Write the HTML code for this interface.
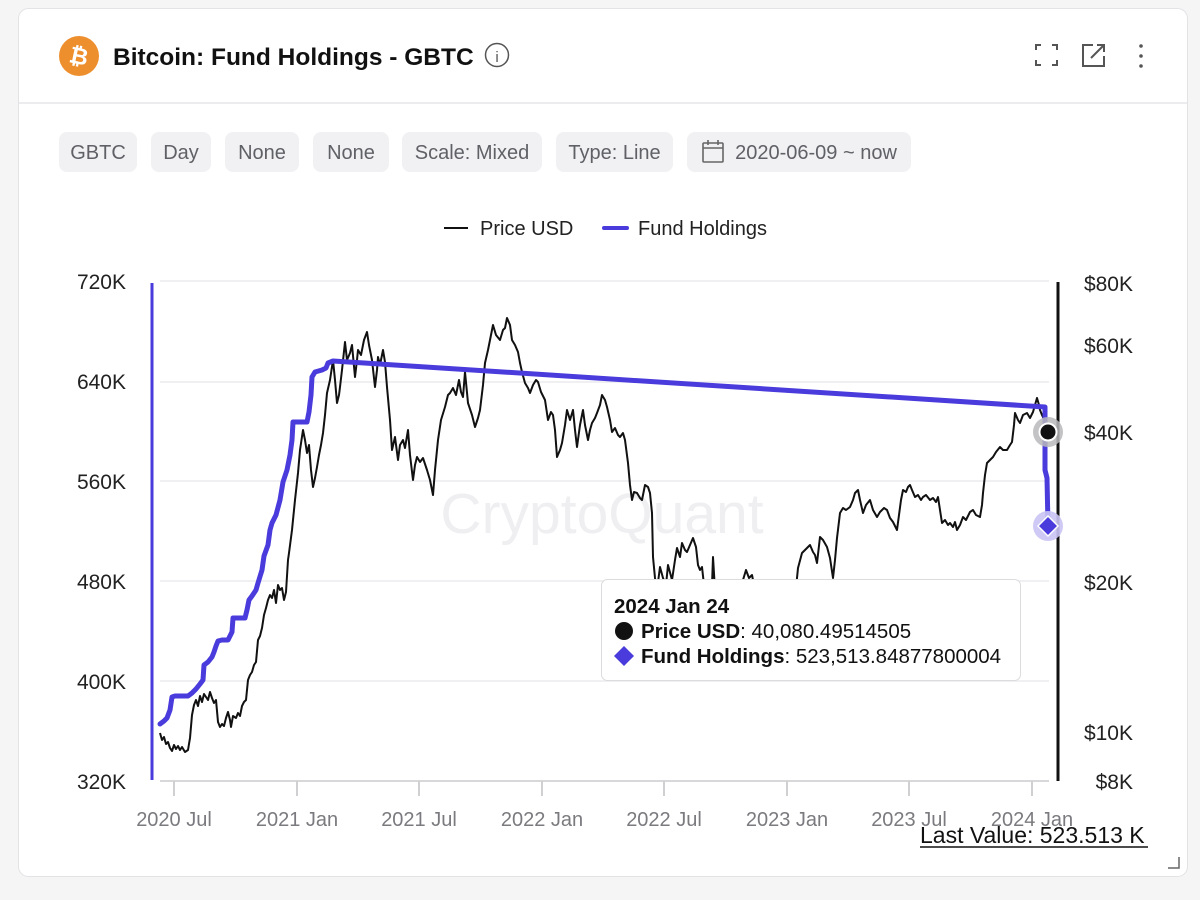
<!DOCTYPE html>
<html><head><meta charset="utf-8"><style>
html,body{margin:0;padding:0;background:#f5f5f6;}
svg{display:block;font-family:"Liberation Sans",Arial,sans-serif;}
</style></head><body>
<svg width="1200" height="900" viewBox="0 0 1200 900" xmlns="http://www.w3.org/2000/svg">
<rect x="0" y="0" width="1200" height="900" fill="#f5f5f6"/>
<rect x="18.5" y="8.5" width="1169" height="868" rx="10" fill="#fff" stroke="#e3e3e6"/>
<line x1="19" y1="103" x2="1187" y2="103" stroke="#e6e6e9" stroke-width="1.5"/>
<!-- header -->
<circle cx="79" cy="56" r="20" fill="#ee8f2e"/>
<text x="79" y="64" text-anchor="middle" font-size="23" font-weight="bold" fill="#fff" transform="rotate(12 79 56)">₿</text>
<text x="113" y="65" font-size="24.5" font-weight="bold" fill="#111">Bitcoin: Fund Holdings - GBTC</text>
<circle cx="497" cy="55" r="11.5" fill="none" stroke="#555" stroke-width="1.5"/>
<text x="497" y="62" text-anchor="middle" font-size="15" fill="#555">i</text>
<g stroke="#555" stroke-width="2" fill="none">
<path d="M1036 50 V45 H1041 M1052 45 H1057 V50 M1057 60 V65 H1052 M1041 65 H1036 V60"/>
<path d="M1093 45 H1083 V66 H1104 V56 M1091 58 L1104 45 M1097 45 H1104 V52"/>
</g>
<circle cx="1141" cy="46" r="1.8" fill="#555"/><circle cx="1141" cy="56" r="1.8" fill="#555"/><circle cx="1141" cy="66" r="1.8" fill="#555"/>
<!-- buttons -->
<g fill="#f1f1f3">
<rect x="59" y="132" width="78" height="40" rx="8"/>
<rect x="151" y="132" width="60" height="40" rx="8"/>
<rect x="225" y="132" width="74" height="40" rx="8"/>
<rect x="313" y="132" width="76" height="40" rx="8"/>
<rect x="402" y="132" width="140" height="40" rx="8"/>
<rect x="556" y="132" width="117" height="40" rx="8"/>
<rect x="687" y="132" width="224" height="40" rx="8"/>
</g>
<g font-size="20" fill="#5f6166" text-anchor="middle">
<text x="98" y="159">GBTC</text>
<text x="181" y="159">Day</text>
<text x="262" y="159">None</text>
<text x="351" y="159">None</text>
<text x="472" y="159">Scale: Mixed</text>
<text x="614.5" y="159">Type: Line</text>
<text x="816" y="159">2020-06-09 ~ now</text>
</g>
<g stroke="#666" stroke-width="1.6" fill="none">
<rect x="703" y="143" width="20" height="19" rx="1"/>
<line x1="703" y1="148" x2="723" y2="148"/>
<line x1="708" y1="140" x2="708" y2="145"/><line x1="718" y1="140" x2="718" y2="145"/>
</g>
<!-- legend -->
<line x1="444" y1="228" x2="468" y2="228" stroke="#111" stroke-width="2"/>
<text x="480" y="235" font-size="20" fill="#222">Price USD</text>
<line x1="604" y1="228" x2="627" y2="228" stroke="#4a3bdc" stroke-width="4" stroke-linecap="round"/>
<text x="638" y="235" font-size="20" fill="#222">Fund Holdings</text>
<!-- grid -->
<g stroke="#ececee" stroke-width="1.5">
<line x1="160" y1="281" x2="1049" y2="281"/>
<line x1="160" y1="382" x2="1049" y2="382"/>
<line x1="160" y1="481" x2="1049" y2="481"/>
<line x1="160" y1="581" x2="1049" y2="581"/>
<line x1="160" y1="681" x2="1049" y2="681"/>
</g>
<line x1="160" y1="781" x2="1049" y2="781" stroke="#d8d8db" stroke-width="2"/>
<g stroke="#d0d0d3" stroke-width="2">
<line x1="174" y1="781" x2="174" y2="796"/><line x1="297" y1="781" x2="297" y2="796"/>
<line x1="419" y1="781" x2="419" y2="796"/><line x1="542" y1="781" x2="542" y2="796"/>
<line x1="664" y1="781" x2="664" y2="796"/><line x1="787" y1="781" x2="787" y2="796"/>
<line x1="909" y1="781" x2="909" y2="796"/><line x1="1032" y1="781" x2="1032" y2="796"/>
</g>
<text x="602" y="533" text-anchor="middle" font-size="57" fill="#efeff2">CryptoQuant</text>
<!-- axes labels -->
<g font-size="21" fill="#222" text-anchor="end">
<text x="126" y="289">720K</text><text x="126" y="389">640K</text><text x="126" y="489">560K</text>
<text x="126" y="589">480K</text><text x="126" y="689">400K</text><text x="126" y="789">320K</text>
<text x="1133" y="291">$80K</text><text x="1133" y="353">$60K</text><text x="1133" y="440">$40K</text>
<text x="1133" y="590">$20K</text><text x="1133" y="740">$10K</text><text x="1133" y="789">$8K</text>
</g>
<g font-size="20" fill="#7a7a7f" text-anchor="middle">
<text x="174" y="826">2020 Jul</text><text x="297" y="826">2021 Jan</text><text x="419" y="826">2021 Jul</text>
<text x="542" y="826">2022 Jan</text><text x="664" y="826">2022 Jul</text><text x="787" y="826">2023 Jan</text>
<text x="909" y="826">2023 Jul</text><text x="1032" y="826">2024 Jan</text>
</g>
<line x1="152" y1="283" x2="152" y2="780" stroke="#4a3bdc" stroke-width="3"/>
<line x1="1058" y1="282" x2="1058" y2="781" stroke="#111" stroke-width="3"/>
<!-- price -->
<polyline fill="none" stroke="#111" stroke-width="2" stroke-linejoin="round" points="160,733 162,740 164,737 166,744 168,742 170,748 172,751 174,745 176,749 178,746 180,750 182,747 185,752 188,750 190,738 192,715 194,705 196,700 198,706 200,696 202,702 204,694 206,697 208,700 210,692 212,698 214,703 216,700 218,722 220,727 222,724 224,726 226,718 228,712 230,720 231,727 233,716 236,718 238,713 240,716 242,706 244,702 246,700 248,680 250,675 252,672 254,665 256,662 258,640 260,636 262,628 264,615 266,608 268,600 270,595 272,598 274,590 276,603 278,585 280,590 282,588 284,600 286,592 288,560 289,553 292,530 295,500 298,473 300,450 303,430 305,440 307,453 309,445 311,470 313,487 315,478 317,467 319,455 321,445 323,433 325,415 327,393 330,380 333,360 335,380 337,403 339,395 340,387 342,370 345,342 347,360 350,353 352,345 355,377 357,360 358,350 361,355 364,340 367,332 369,345 372,360 375,387 377,370 378,357 380,365 383,350 385,362 387,387 390,420 392,450 395,437 398,460 400,445 403,440 405,448 408,430 410,455 413,480 415,465 417,457 420,462 423,458 427,470 430,480 433,495 435,470 438,440 441,420 445,407 448,395 450,393 453,388 456,395 459,380 461,392 463,397 465,372 468,403 472,415 475,427 478,418 480,410 483,385 485,363 488,350 490,340 493,325 496,335 500,340 503,330 505,328 507,318 510,325 512,340 515,345 518,352 520,363 522,372 525,383 528,388 530,393 533,385 536,380 538,382 541,392 545,400 548,420 551,412 553,415 555,430 557,457 560,450 562,443 565,425 567,410 570,420 573,410 575,430 577,447 580,425 583,410 585,425 588,440 590,430 592,423 595,418 597,413 600,405 602,395 605,400 607,407 610,420 612,432 615,428 618,435 620,437 623,433 625,440 628,463 630,485 632,500 634,492 637,493 640,498 642,500 645,485 648,487 650,493 652,513 653,557 655,578 657,590 660,567 663,578 666,585 668,565 672,580 675,560 677,548 680,557 682,543 685,550 687,552 690,545 693,538 696,547 698,565 700,570 702,567 704,585 708,590 712,585 713,557 715,590 720,600 725,605 730,598 735,595 740,600 743,580 746,570 749,578 752,575 755,590 760,600 765,610 768,625 772,635 775,633 780,630 785,628 790,622 795,600 797,578 798,568 802,553 805,550 807,548 810,545 813,552 815,555 817,563 820,537 823,540 827,547 830,558 833,578 835,560 837,538 840,513 843,508 846,510 850,507 853,500 855,493 858,490 860,500 863,513 866,505 870,500 873,510 877,517 880,512 884,508 887,510 890,518 893,522 897,530 899,515 901,500 903,490 906,492 908,487 910,485 912,490 915,497 918,495 921,500 923,497 926,495 930,500 933,498 936,502 938,497 940,510 942,523 945,520 948,525 950,523 953,527 955,522 957,530 960,525 963,517 966,520 970,512 973,510 976,515 980,517 982,505 983,493 985,475 987,463 990,460 993,457 996,452 1000,447 1003,450 1007,450 1010,445 1012,442 1014,425 1015,413 1018,420 1020,423 1023,415 1027,413 1030,418 1033,412 1035,405 1037,398 1039,405 1040,410 1042,415 1043,417 1045,425 1048,432"/>
<!-- fund holdings -->
<polyline fill="none" stroke="#4a3bdc" stroke-width="5" stroke-linejoin="round" stroke-linecap="round" points="160,724 164,721 167,718 170,710 172,697 175,696 188,696 192,693 196,689 200,684 203,680 204,665 208,662 212,657 214,652 216,646 218,641 222,640 228,640 232,632 233,618 245,618 247,610 249,600 252,596 256,590 258,583 262,570 264,556 268,545 270,530 272,523 276,515 280,500 283,482 287,470 290,455 292,440 293,422 307,422 309,412 311,395 312,377 315,372 322,370 326,368 328,363 333,361 1045,407 1045,470 1047,478 1048,526"/>
<!-- markers -->
<circle cx="1048" cy="432" r="15" fill="#b9b9bc" opacity="0.85"/>
<circle cx="1048" cy="432" r="8.5" fill="#111" stroke="#fff" stroke-width="2"/>
<circle cx="1048" cy="526" r="15" fill="#c9c4f4" opacity="0.9"/>
<polygon points="1048,516 1058,526 1048,536 1038,526" fill="#4a3bdc" stroke="#fff" stroke-width="1.5"/>
<!-- tooltip -->
<rect x="601.5" y="579.5" width="419" height="101" rx="6" fill="#fff" stroke="#dcdcdf"/>
<text x="614" y="613" font-size="20.5" font-weight="bold" fill="#111">2024 Jan 24</text>
<circle cx="624" cy="631" r="9" fill="#111"/>
<text x="641" y="638" font-size="20.5" fill="#111"><tspan font-weight="bold">Price USD</tspan>: 40,080.49514505</text>
<polygon points="624,646 634,656 624,666 614,656" fill="#4a3bdc"/>
<text x="641" y="663" font-size="20.5" fill="#111"><tspan font-weight="bold">Fund Holdings</tspan>: 523,513.84877800004</text>
<!-- last value -->
<text x="920" y="843" font-size="23" fill="#111">Last Value: 523.513 K</text>
<line x1="920" y1="847" x2="1148" y2="847" stroke="#111" stroke-width="1.5"/>
<path d="M1179 857 V868 H1168" fill="none" stroke="#666" stroke-width="1.5"/>
</svg>
</body></html>
